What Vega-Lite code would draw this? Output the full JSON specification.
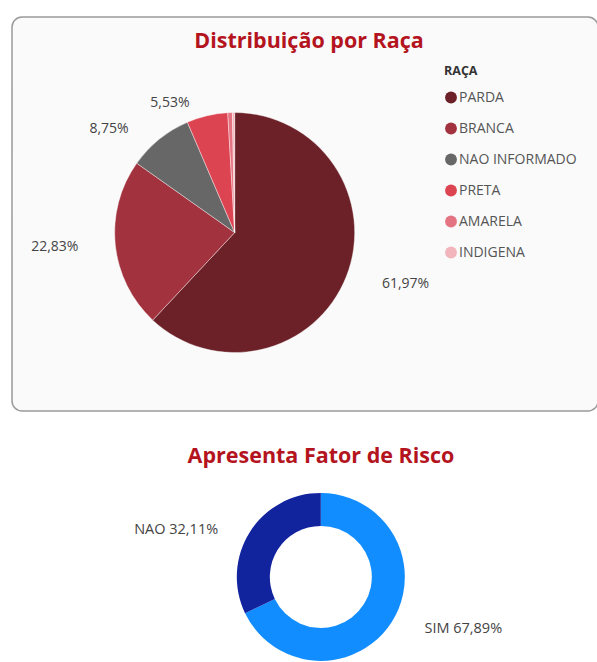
{
  "$schema": "https://vega.github.io/schema/vega-lite/v6.json",
  "padding": {"left": 11, "top": 16, "right": 0, "bottom": 0},
  "autosize": {"type": "pad"},
  "background": "#ffffff",
  "spacing": 33,
  "config": {
    "view": {"stroke": null},
    "font": "Open Sans",
    "text": {"font": "Open Sans", "fontSize": 14, "color": "#444444"}
  },
  "datasets": {
    "raca": [
      {"raca": "PARDA", "pct": 61.97, "rotulo": "61,97%", "ordem": 1},
      {"raca": "BRANCA", "pct": 22.83, "rotulo": "22,83%", "ordem": 2},
      {"raca": "NAO INFORMADO", "pct": 8.75, "rotulo": "8,75%", "ordem": 3},
      {"raca": "PRETA", "pct": 5.53, "rotulo": "5,53%", "ordem": 4},
      {"raca": "AMARELA", "pct": 0.62, "rotulo": "0,62%", "ordem": 5},
      {"raca": "INDIGENA", "pct": 0.30, "rotulo": "0,30%", "ordem": 6}
    ],
    "risco": [
      {"fator": "SIM", "pct": 67.89, "rotulo": "SIM 67,89%", "ordem": 1},
      {"fator": "NAO", "pct": 32.11, "rotulo": "NAO 32,11%", "ordem": 2}
    ]
  },
  "vconcat": [
    {
      "width": 586,
      "height": 394,
      "view": {"stroke": "#9a9a9a", "strokeWidth": 1.5, "cornerRadius": 10, "fill": "#fafafa"},
      "title": {"text": "Distribuição por Raça", "fontSize": 21.5, "fontWeight": "bold", "color": "#B4141E", "anchor": "middle", "offset": -35, "dx": 4, "font": "Open Sans"},
      "data": {"name": "raca"},
      "encoding": {
        "theta": {"field": "pct", "type": "quantitative", "stack": true},
        "order": {"field": "ordem", "type": "quantitative"},
        "x": {"datum": 0.38, "type": "quantitative", "scale": {"domain": [0, 1]}, "axis": null},
        "y": {"datum": 0.547, "type": "quantitative", "scale": {"domain": [0, 1], "reverse": true}, "axis": null}
      },
      "layer": [
        {
          "mark": {"type": "arc", "outerRadius": 120, "stroke": "#ffffff", "strokeWidth": 0.4},
          "encoding": {
            "color": {
              "field": "raca", "type": "nominal",
              "sort": ["PARDA", "BRANCA", "NAO INFORMADO", "PRETA", "AMARELA", "INDIGENA"],
              "scale": {"domain": ["PARDA", "BRANCA", "NAO INFORMADO", "PRETA", "AMARELA", "INDIGENA"], "range": ["#6B2127", "#A3323F", "#676767", "#DC4452", "#E57482", "#F3B5BC"]},
              "legend": {
                "title": "RAÇA", "orient": "none", "legendX": 432, "legendY": 48,
                "titleFont": "Open Sans", "titleFontSize": 12.5, "titleFontWeight": "bold", "titleColor": "#333333", "titlePadding": 13,
                "labelFont": "Open Sans", "labelFontSize": 14, "labelColor": "#555555", "labelOffset": 1,
                "symbolType": "circle", "symbolSize": 140, "symbolStrokeWidth": 0, "rowPadding": 17
              }
            }
          }
        },
        {
          "mark": {"type": "text", "radius": 140, "align": "left", "baseline": "middle", "dx": 17, "dy": 0},
          "encoding": {"text": {"condition": {"test": "datum.raca == 'PARDA'", "field": "rotulo"}, "value": ""}}
        },
        {
          "mark": {"type": "text", "radius": 140, "align": "right", "baseline": "middle", "dx": -17, "dy": 0},
          "encoding": {"text": {"condition": {"test": "datum.raca == 'BRANCA'", "field": "rotulo"}, "value": ""}}
        },
        {
          "mark": {"type": "text", "radius": 140, "align": "right", "baseline": "middle", "dx": -18, "dy": 5},
          "encoding": {"text": {"condition": {"test": "datum.raca == 'NAO INFORMADO'", "field": "rotulo"}, "value": ""}}
        },
        {
          "mark": {"type": "text", "radius": 140, "align": "right", "baseline": "middle", "dx": -13, "dy": 7},
          "encoding": {"text": {"condition": {"test": "datum.raca == 'PRETA'", "field": "rotulo"}, "value": ""}}
        }
      ]
    },
    {
      "width": 586,
      "height": 182,
      "title": {"text": "Apresenta Fator de Risco", "fontSize": 21.5, "fontWeight": "bold", "color": "#B4141E", "anchor": "middle", "offset": 10, "dx": 16, "font": "Open Sans"},
      "data": {"name": "risco"},
      "encoding": {
        "theta": {"field": "pct", "type": "quantitative", "stack": true},
        "order": {"field": "ordem", "type": "quantitative"},
        "x": {"datum": 0.527, "type": "quantitative", "scale": {"domain": [0, 1]}, "axis": null},
        "y": {"datum": 0.549, "type": "quantitative", "scale": {"domain": [0, 1], "reverse": true}, "axis": null}
      },
      "layer": [
        {
          "mark": {"type": "arc", "outerRadius": 84, "innerRadius": 51},
          "encoding": {
            "color": {
              "field": "fator", "type": "nominal",
              "scale": {"domain": ["SIM", "NAO"], "range": ["#118DFF", "#12239E"]},
              "legend": null
            }
          }
        },
        {
          "mark": {"type": "text", "radius": 100, "align": "left", "baseline": "middle", "dx": 19, "dy": -1, "fontSize": 14.5},
          "encoding": {"text": {"condition": {"test": "datum.fator == 'SIM'", "field": "rotulo"}, "value": ""}}
        },
        {
          "mark": {"type": "text", "radius": 100, "align": "right", "baseline": "middle", "dx": -18, "dy": 6, "fontSize": 14.5},
          "encoding": {"text": {"condition": {"test": "datum.fator == 'NAO'", "field": "rotulo"}, "value": ""}}
        }
      ]
    }
  ],
  "resolve": {"scale": {"color": "independent", "theta": "independent", "x": "independent", "y": "independent"}}
}
